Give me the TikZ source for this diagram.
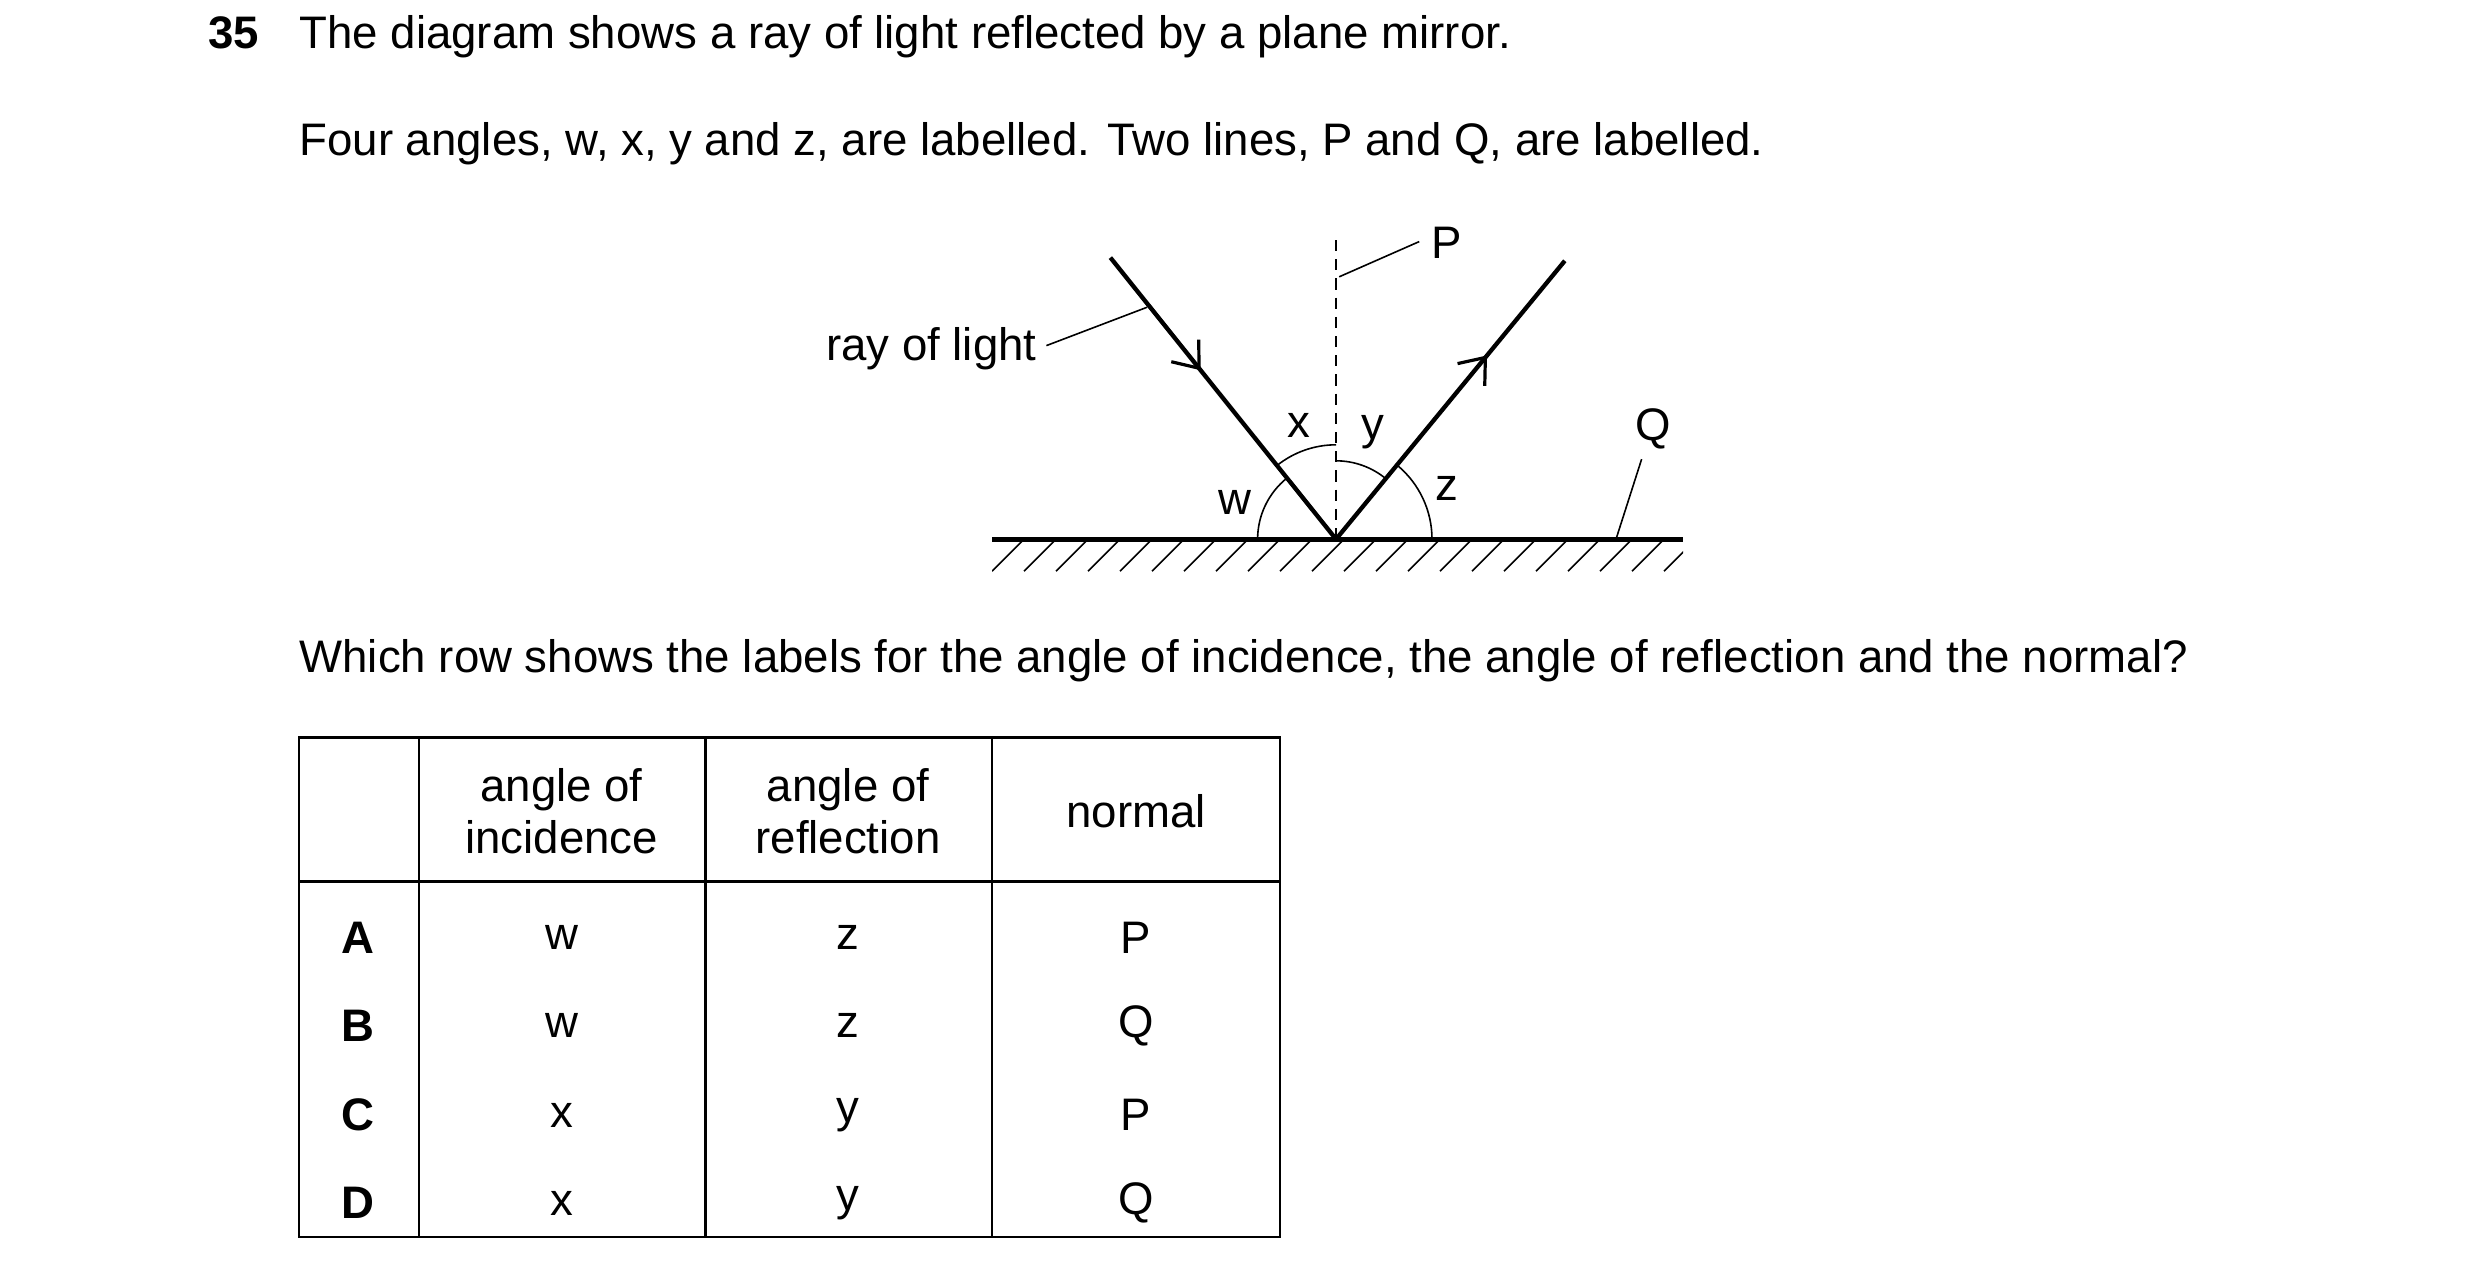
\documentclass[tikz,border=0pt]{standalone}
\usepackage{fontspec}
\setmainfont{Liberation Sans}
\usetikzlibrary{decorations.markings,arrows.meta,calc}
\begin{document}
\begin{tikzpicture}[x=1pt,y=-1pt,
  txt/.style={font=\fontsize{28.5}{33}\selectfont,inner sep=0pt},
  lbl/.style={font=\fontsize{28.5}{33}\selectfont,inner sep=0pt},
  ray/.style={line width=2.7pt},
  thin/.style={line width=1pt},
  tab/.style={line width=1.5pt}]
\useasboundingbox (0,0) rectangle (1550,790);
% texts
\node[txt,anchor=base west,font=\fontsize{28.5}{33}\selectfont\bfseries] (num) at (130,30) {35};
\node[txt,anchor=base west] (t1) at (187,30) {The diagram shows a ray of light reflected by a plane mirror.};
\node[txt,anchor=base west] (t2) at (187,97) {Four angles, w, x, y and z, are labelled. Two lines, P and Q, are labelled.};
\node[txt,anchor=base west] (t3) at (187,420) {Which row shows the labels for the angle of incidence, the angle of reflection and the normal?};
% mirror
\coordinate (ml) at (620,337); \coordinate (mr) at (1052,337);
\draw[line width=3pt] (ml) -- (mr);
\begin{scope}
\clip (620,338) rectangle (1052,360);
\foreach \i in {0,...,22} {\draw[thin] (620+20*\i,357) -- (640+20*\i,337);}
\end{scope}
% rays
\coordinate (O) at (835,337);
\coordinate (A) at (694,161);
\coordinate (B) at (978,163);
\draw[ray,decoration={markings,mark=at position 0.40 with {\arrow{Straight Barb[length=14pt,width=22pt,line width=2pt]}}},postaction={decorate}] (A) -- (O);
\draw[ray,decoration={markings,mark=at position 0.66 with {\arrow{Straight Barb[length=14pt,width=22pt,line width=2pt]}}},postaction={decorate}] (O) -- (B);
% normal
\coordinate (N) at (835,150);
\draw[thin,dash pattern=on 7pt off 5pt] (N) -- (O);
% arcs
\draw[thin] ($(O)+(-49,0)$) arc[start angle=180,end angle=231.3,radius=49];
\draw[thin] ($(O)+(-128.7:59)$) arc[start angle=-128.7,end angle=-90,radius=59];
\draw[thin] ($(O)+(0,-49)$) arc[start angle=-90,end angle=-50.6,radius=49];
\draw[thin] ($(O)+(60,0)$) arc[start angle=0,end angle=-50.6,radius=60];
% labels
\node[lbl] (lx) at (812,266) {x};
\node[lbl] (ly) at (858,270) {y};
\node[lbl] (lw) at (772,314) {w};
\node[lbl] (lz) at (904,305) {z};
\node[lbl] (lP) at (904,152) {P};
\coordinate (p1) at (837,173); \coordinate (p2) at (887,151);
\draw[thin] (p1) -- (p2);
\node[lbl] (lQ) at (1033,268) {Q};
\coordinate (q1) at (1026,287); \coordinate (q2) at (1010,337);
\draw[thin] (q1) -- (q2);
\node[lbl,anchor=base east] (rl) at (648,225) {ray of light};
\coordinate (r1) at (654,216); \coordinate (r2) at (717,192);
\draw[thin] (r1) -- (r2);
% table
\draw[tab] (187,461) rectangle (800,773);
\draw[tab] (187,551) -- (800,551);
\foreach \cx in {262,441,620} \draw[tab] (\cx,461) -- (\cx,773);
\node[txt,align=center] (h1) at (351,507) {angle of\\incidence};
\node[txt,align=center] (h2) at (530,507) {angle of\\reflection};
\node[txt] (h3) at (710,507) {normal};
\foreach \r/\y/\a/\b/\c in {A/586/w/z/P,B/641/w/z/Q,C/697/x/y/P,D/752/x/y/Q} {
  \node[txt,font=\fontsize{28.5}{33}\selectfont\bfseries] at (224,\y) {\r};
  \node[txt] at (351,\y) {\a};
  \node[txt] at (530,\y) {\b};
  \node[txt] at (710,\y) {\c};
}
\end{tikzpicture}
\end{document}
